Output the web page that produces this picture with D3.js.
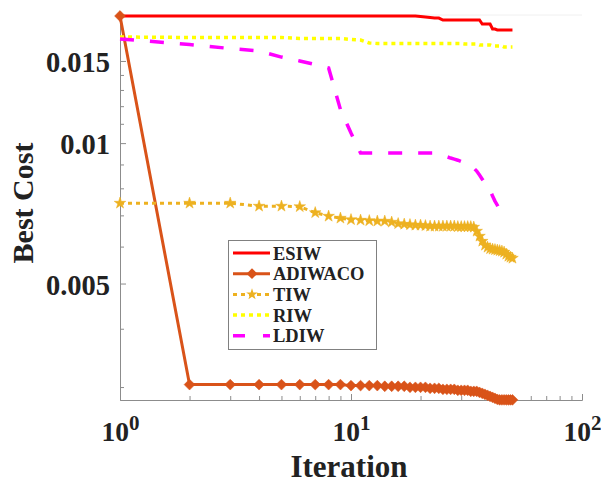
<!DOCTYPE html>
<html>
<head>
<meta charset="utf-8">
<script src="https://cdn.jsdelivr.net/npm/d3@7"></script>
<style>
  body { margin: 0; background: #fff; }
  text { font-family: "Liberation Serif", "Times New Roman", serif; font-weight: bold; fill: #222; }
</style>
</head>
<body>
<svg id="chart" width="601" height="485"></svg>
<script>
// iterations 1..50
const iterations = d3.range(1, 51);

const esiw = [
    0.01873, 0.01873, 0.01873, 0.01873, 0.01873, 0.01873, 0.01873, 0.01873, 0.01873, 0.01873,
    0.01873, 0.01873, 0.01873, 0.01873, 0.01873, 0.01873, 0.01873, 0.01873, 0.01873, 0.01869,
    0.01864, 0.01859, 0.01854, 0.01854, 0.01836, 0.01836, 0.01836, 0.01836, 0.01836, 0.01836,
    0.01836, 0.01836, 0.01836, 0.01836, 0.01836, 0.01836, 0.01800, 0.01800, 0.01800, 0.01800,
    0.01756, 0.01756, 0.01748, 0.01748, 0.01748, 0.01748, 0.01748, 0.01748, 0.01748, 0.01748
];

const adiwaco = [
    0.01873, 0.003036, 0.003036, 0.003036, 0.003036, 0.003036, 0.003036, 0.003036, 0.003036, 0.003021,
    0.003021, 0.003021, 0.003021, 0.003011, 0.003011, 0.003011, 0.003011, 0.002996, 0.002996, 0.002996,
    0.002996, 0.002981, 0.002981, 0.002981, 0.002966, 0.002966, 0.002966, 0.002966, 0.002952, 0.002952,
    0.002952, 0.002952, 0.002937, 0.002937, 0.002937, 0.002922, 0.002908, 0.002894, 0.002880, 0.002865,
    0.002851, 0.002837, 0.002823, 0.002816, 0.002816, 0.002816, 0.002816, 0.002816, 0.002816, 0.002816
];

const tiw = [
    0.007435, 0.007435, 0.007435, 0.007326, 0.007326, 0.007308, 0.007094, 0.006972, 0.006904, 0.006853,
    0.006836, 0.006819, 0.006803, 0.006803, 0.006769, 0.006719, 0.006702, 0.006686, 0.006669, 0.006669,
    0.006653, 0.006636, 0.006636, 0.006636, 0.006636, 0.006636, 0.006636, 0.006636, 0.006620, 0.006620,
    0.006620, 0.006620, 0.006620, 0.006604, 0.006475, 0.006317, 0.006162, 0.006041, 0.005982, 0.005938,
    0.005924, 0.005909, 0.005895, 0.005880, 0.005866, 0.005837, 0.005779, 0.005722, 0.005694, 0.005666
];

const riw = [
    0.016885, 0.016843, 0.016843, 0.016843, 0.016843, 0.016760, 0.016760, 0.016760, 0.016760, 0.016677,
    0.016636, 0.016391, 0.016351, 0.016351, 0.016351, 0.016351, 0.016351, 0.016351, 0.016351, 0.016351,
    0.016351, 0.016351, 0.016351, 0.016351, 0.016351, 0.016351, 0.016351, 0.016351, 0.016351, 0.016351,
    0.016311, 0.016311, 0.016311, 0.016311, 0.016311, 0.016230, 0.016230, 0.016230, 0.016230, 0.016230,
    0.016150, 0.016150, 0.016150, 0.016150, 0.016150, 0.016070, 0.016070, 0.016070, 0.016070, 0.016070
];

// visible part of LDIW ends around iteration 45
const ldiw = [
    0.01672, 0.01627, 0.01595, 0.01576, 0.01529, 0.01500, 0.01474, 0.01449, 0.01181, 0.01051,
    0.00952, 0.00952, 0.00952, 0.00952, 0.00952, 0.00952, 0.00952, 0.00952, 0.00952, 0.00952,
    0.00952, 0.00952, 0.00952, 0.00947, 0.00940, 0.00935, 0.00929, 0.00924, 0.00919, 0.00913,
    0.00906, 0.00899, 0.00893, 0.00884, 0.00871, 0.00854, 0.00837, 0.00821, 0.00807, 0.00793,
    0.00770, 0.00751, 0.00736, 0.00718, 0.00711
];

const seriesNames = ["ESIW", "ADIWACO", "TIW", "RIW", "LDIW"];
const seriesValues = [esiw, adiwaco, tiw, riw, ldiw];

const yTicks = [0.005, 0.01, 0.015];
const yMinorTicks = [0.003, 0.004, 0.006, 0.007, 0.008, 0.009, 0.011, 0.012, 0.013, 0.014];
const xTicks = [1, 10, 100];
const xMinorTicks = [2, 3, 4, 5, 6, 7, 8, 9, 20, 30, 40, 50, 60, 70, 80, 90];

// look of each series
const styles = {
    ESIW:    { color: "#ff0000", width: 3,   dash: null,    marker: null },
    ADIWACO: { color: "#d95319", width: 3,   dash: null,    marker: "diamond" },
    TIW:     { color: "#edb120", width: 3,   dash: "4 4",   marker: "star" },
    RIW:     { color: "#ffff00", width: 3.5, dash: "4 4",   marker: null },
    LDIW:    { color: "#ff00ff", width: 3.5, dash: "14 16", marker: null }
};

const plotLeft = 120, plotRight = 582, plotTop = 15, plotBottom = 400;

const svg = d3.select("#chart");

const xScale = d3.scaleLog().domain([1, 100]).range([plotLeft, plotRight]);
const yScale = d3.scaleLog().domain([0.002814, 0.01882]).range([plotBottom, plotTop]);

// faint top edge
svg.append("line")
    .attr("x1", plotLeft).attr("x2", plotRight)
    .attr("y1", plotTop).attr("y2", plotTop)
    .attr("stroke", "#f0f0f0");

// minor ticks
svg.append("g")
    .attr("transform", `translate(0,${plotBottom})`)
    .call(d3.axisBottom(xScale).tickValues(xMinorTicks).tickSizeInner(-4).tickSizeOuter(0).tickFormat(""));
svg.append("g")
    .attr("transform", `translate(${plotLeft},0)`)
    .call(d3.axisLeft(yScale).tickValues(yMinorTicks).tickSizeInner(-4).tickSizeOuter(0).tickFormat(""));

// major x axis
const xAxis = svg.append("g")
    .attr("transform", `translate(0,${plotBottom})`)
    .call(d3.axisBottom(xScale).tickValues(xTicks).tickSizeInner(-6).tickSizeOuter(0));
xAxis.selectAll(".tick text").each(function (d) {
    const t = d3.select(this).text("").attr("y", 41).attr("dy", null)
        .attr("font-size", "27.5px").attr("text-anchor", "middle");
    t.append("tspan").text("10");
    t.append("tspan").attr("dy", -11).attr("font-size", "21px").text(Math.round(Math.log10(d)));
});

// major y axis
svg.append("g")
    .attr("transform", `translate(${plotLeft},0)`)
    .call(d3.axisLeft(yScale).tickValues(yTicks).tickSizeInner(-6).tickSizeOuter(0).tickPadding(10)
        .tickFormat(d => d3.format("")(d)))
    .selectAll(".tick text")
    .attr("font-size", "28.5px")
    .attr("dy", "0.38em");

svg.selectAll(".domain, .tick line").attr("stroke", "#8c8c8c");
svg.selectAll("g").attr("font-family", null).attr("font-size", null);
svg.selectAll(".tick text").attr("fill", "#222");

// axis titles
svg.append("text")
    .attr("transform", "translate(33,203) rotate(-90)")
    .attr("text-anchor", "middle")
    .attr("font-size", "30px")
    .text("Best Cost");

svg.append("text")
    .attr("x", 349).attr("y", 477)
    .attr("text-anchor", "middle")
    .attr("font-size", "31px")
    .text("Iteration");

// lines and markers
const line = d3.line()
    .x((d, i) => xScale(iterations[i]))
    .y(d => yScale(d));

function markerPath(kind) {
    if (kind === "star") return d3.symbol(d3.symbolStar, 42)();
    return d3.symbol(d3.symbolDiamond2, 75)();
}

seriesNames.forEach((name, k) => {
    const s = styles[name];
    const values = seriesValues[k];
    svg.append("path")
        .datum(values)
        .attr("fill", "none")
        .attr("stroke", s.color)
        .attr("stroke-width", s.width)
        .attr("stroke-dasharray", s.dash)
        .attr("d", line);
    if (s.marker) {
        svg.append("g").selectAll("path")
            .data(values)
            .enter().append("path")
            .attr("transform", (d, i) => `translate(${xScale(iterations[i])},${yScale(d)})`)
            .attr("d", markerPath(s.marker))
            .attr("fill", s.color)
            .attr("stroke", s.color)
            .attr("stroke-width", 0.5);
    }
});

// legend
const legend = svg.append("g");
legend.append("rect")
    .attr("x", 228.5).attr("y", 240.5)
    .attr("width", 148).attr("height", 109)
    .attr("fill", "#fff")
    .attr("stroke", "#808080");

seriesNames.forEach((name, k) => {
    const s = styles[name];
    const ry = 253 + k * 20.7;
    legend.append("line")
        .attr("x1", 233).attr("x2", 270)
        .attr("y1", ry).attr("y2", ry)
        .attr("stroke", s.color)
        .attr("stroke-width", s.width)
        .attr("stroke-dasharray", name === "LDIW" ? "12 18" : s.dash);
    if (s.marker) {
        legend.append("path")
            .attr("transform", `translate(252,${ry})`)
            .attr("d", markerPath(s.marker))
            .attr("fill", s.color);
    }
    legend.append("text")
        .attr("x", 273).attr("y", ry)
        .attr("dy", "0.36em")
        .attr("font-size", "18.5px")
        .text(name);
});
</script>
</body>
</html>
